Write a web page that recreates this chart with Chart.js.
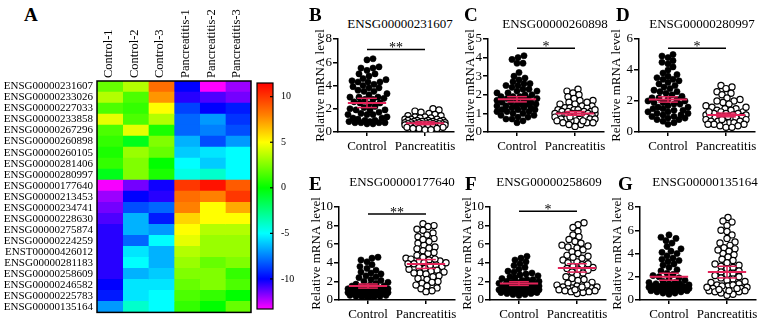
<!DOCTYPE html>
<html>
<head>
<meta charset="utf-8">
<script src="https://cdn.jsdelivr.net/npm/chart.js@4.4.1/dist/chart.umd.min.js"></script>
<style>
  body { margin: 0; background: #fff; width: 762px; height: 323px; overflow: hidden; position: relative; font-family: "Liberation Serif", serif; }
  canvas { position: absolute; }
  .letter { position: absolute; font-weight: bold; font-size: 19px; line-height: 1; }
  .gene { position: absolute; font-size: 13px; line-height: 1; white-space: nowrap; transform: translateX(-50%); }
</style>
</head>
<body>
<script>
// ---- heatmap data (panel A) ----
const genes = ['ENSG00000231607', 'ENSG00000233026', 'ENSG00000227033', 'ENSG00000233858',
  'ENSG00000267296', 'ENSG00000260898', 'ENSG00000260105', 'ENSG00000281406', 'ENSG00000280997',
  'ENSG00000177640', 'ENSG00000213453', 'ENSG00000234741', 'ENSG00000228630', 'ENSG00000275874',
  'ENSG00000224259', 'ENST00000426012', 'ENSG00000281183', 'ENSG00000258609', 'ENSG00000246582',
  'ENSG00000225783', 'ENSG00000135164'];
const samples = ['Control-1', 'Control-2', 'Control-3', 'Pancreatitis-1', 'Pancreatitis-2', 'Pancreatitis-3'];
const heat = [
  [2, 3.5, 8.5, -10, -13.3, -12],
  [3.5, 1.5, 7.5, -10.5, -11, -11.5],
  [1.5, 1, 5, -8.7, -10, -9.5],
  [4.5, 1.5, 3.5, -8, -7, -9],
  [1.5, 4.5, 0.5, -8, -7.5, -8.5],
  [1, -0.5, 2.5, -6.5, -8.5, -7],
  [0.5, 3, 2, -6, -5.5, -5],
  [1, 2.5, 0, -5, -6, -5],
  [-0.5, 2.5, 0.5, -4.5, -4, -5],
  [-13.2, -11.5, -10.2, 10, 11, 9],
  [-12, -10, -10.5, 8.5, 8, 10],
  [-11.5, -8.5, -8, 8, 5, 7],
  [-11, -6.5, -9.5, 6, 5, 5],
  [-10.5, -6.5, -7, 5, 3.5, 3.5],
  [-10.5, -8, -5, 4.5, 3, 3],
  [-10.5, -5.5, -6.5, 3.5, 3, 3],
  [-10.5, -5, -6.5, 3, 2, 2.5],
  [-10.5, -6.5, -6, 2.5, 2.5, 1],
  [-10, -5.5, -5.5, 2, 2.5, 1.5],
  [-9.5, -5.5, -5, 1.5, 1, 0],
  [-7, -4, -5, 1, 0, 2]
];
const cbRange = [-13.3, 11.5];

// ---- dot plot data (panels B-G) ----
const groups = ['Control', 'Pancreatitis'];
const bControl = [6.3, 6.2, 5.6, 5.5, 5.5, 5.3, 5.0, 5.0, 4.8, 4.6, 4.5, 4.4, 4.3, 4.3, 4.3, 4.1, 4.0, 3.9, 3.8, 3.8,
  3.6, 3.5, 3.5, 3.3, 3.2, 3.0, 3.0, 3.0, 2.9, 2.8, 2.8, 2.6, 2.5, 2.5, 2.4, 2.2, 2.1, 2.0, 1.9, 1.9,
  1.9, 1.7, 1.6, 1.5, 1.5, 1.5, 1.3, 1.2, 1.2, 1.1, 1.0, 1.0, 0.9, 0.9, 0.8, 0.8, 0.8, 0.8, 0.7, 0.7];
const bPanc = [2.0, 1.9, 1.8, 1.7, 1.6, 1.5, 1.4, 1.4, 1.3, 1.3, 1.2, 1.2, 1.1, 1.1, 1.1, 1.0, 1.0, 1.0, 1.0,
  0.9, 0.9, 0.9, 0.9, 0.9, 0.8, 0.8, 0.8, 0.8, 0.8, 0.8, 0.7, 0.7, 0.7, 0.7, 0.7, 0.7, 0.7,
  0.6, 0.6, 0.6, 0.6, 0.6, 0.6, 0.5, 0.5, 0.5, 0.5, 0.5, 0.4, 0.4, 0.4, 0.4, 0.3, 0.3, 0.3, 0.2, 0.2];
const cControl = [4.1, 4.0, 3.9, 3.7, 3.7, 3.2, 3.0, 2.9, 2.8, 2.7, 2.6, 2.6, 2.5, 2.5, 2.4, 2.3, 2.2, 2.2, 2.1, 2.1,
  2.0, 2.0, 1.9, 1.9, 1.8, 1.8, 1.8, 1.7, 1.7, 1.7, 1.6, 1.6, 1.6, 1.5, 1.5, 1.5, 1.4, 1.4, 1.4, 1.3,
  1.3, 1.3, 1.2, 1.2, 1.1, 1.1, 1.1, 1.0, 1.0, 0.9, 0.9, 0.8, 0.8, 0.7, 0.7, 0.6, 0.5, 2.3, 1.9, 1.2];
const cPanc = [2.3, 2.2, 2.1, 2.0, 1.9, 1.8, 1.7, 1.7, 1.6, 1.5, 1.5, 1.4, 1.4, 1.3, 1.3, 1.3, 1.2, 1.2, 1.2, 1.1,
  1.1, 1.1, 1.1, 1.0, 1.0, 1.0, 1.0, 1.0, 0.9, 0.9, 0.9, 0.9, 0.9, 0.8, 0.8, 0.8, 0.8, 0.7, 0.7, 0.7,
  0.7, 0.6, 0.6, 0.6, 0.5, 0.5, 0.5, 0.4, 0.4, 0.3, 1.2, 0.8, 1.6, 1.0, 0.6];
const dControl = [5.0, 4.9, 4.8, 4.6, 4.5, 4.4, 4.2, 4.0, 3.8, 3.7, 3.6, 3.5, 3.4, 3.4, 3.2, 3.1, 3.0, 2.9, 2.8, 2.7,
  2.6, 2.5, 2.4, 2.3, 2.2, 2.2, 2.1, 2.0, 2.0, 1.9, 1.9, 1.8, 1.8, 1.7, 1.6, 1.5, 1.5, 1.4, 1.4, 1.3,
  1.3, 1.2, 1.1, 1.1, 1.0, 1.0, 0.9, 0.9, 0.8, 0.8, 0.7, 0.6, 0.5, 2.6, 3.3, 1.6, 2.1, 1.2];
const dPanc = [3.0, 2.9, 2.8, 2.6, 2.5, 2.4, 2.2, 2.1, 2.0, 1.9, 1.8, 1.7, 1.6, 1.5, 1.5, 1.4, 1.4, 1.3, 1.3, 1.2,
  1.2, 1.2, 1.1, 1.1, 1.1, 1.0, 1.0, 1.0, 1.0, 0.9, 0.9, 0.9, 0.8, 0.8, 0.8, 0.7, 0.7, 0.7, 0.6, 0.6,
  0.6, 0.5, 0.5, 0.5, 0.4, 0.4, 0.3, 0.3, 1.6, 1.0, 0.8, 2.0, 1.3];
const eControl = [4.6, 4.5, 4.3, 4.1, 3.8, 3.6, 3.4, 3.2, 3.0, 2.9, 2.8, 2.6, 2.5, 2.4, 2.2, 2.1, 2.0, 1.9, 1.8, 1.7,
  1.6, 1.5, 1.5, 1.4, 1.4, 1.3, 1.3, 1.2, 1.2, 1.1, 1.1, 1.1, 1.0, 1.0, 1.0, 0.9, 0.9, 0.9, 0.9, 0.8,
  0.8, 0.8, 0.8, 0.7, 0.7, 0.7, 0.7, 0.6, 0.6, 0.6, 0.5, 0.5, 0.5, 0.4, 0.4, 0.3, 0.3, 0.2, 1.0, 0.8];
const ePanc = [8.2, 8.0, 7.9, 7.5, 7.2, 7.0, 6.8, 6.6, 6.3, 6.1, 5.9, 5.7, 5.5, 5.3, 5.1, 5.0, 4.8, 4.6, 4.5, 4.4,
  4.3, 4.2, 4.1, 4.0, 3.9, 3.8, 3.7, 3.6, 3.5, 3.4, 3.3, 3.2, 3.1, 3.0, 2.9, 2.8, 2.6, 2.5, 2.3, 2.2,
  2.0, 1.9, 1.8, 1.6, 1.5, 1.3, 1.2, 1.0, 0.9, 4.4, 3.9, 2.9, 5.6, 6.5, 7.6, 4.0];
const fControl = [4.7, 4.5, 4.3, 4.1, 3.9, 3.7, 3.5, 3.3, 3.1, 3.0, 2.9, 2.7, 2.6, 2.5, 2.4, 2.3, 2.2, 2.1, 2.0, 2.0,
  1.9, 1.9, 1.8, 1.8, 1.7, 1.7, 1.6, 1.6, 1.5, 1.5, 1.4, 1.4, 1.3, 1.3, 1.2, 1.2, 1.2, 1.1, 1.1, 1.0,
  1.0, 1.0, 0.9, 0.9, 0.9, 0.8, 0.8, 0.8, 0.7, 0.7, 0.6, 0.6, 0.5, 1.5, 2.2, 1.0, 0.9, 1.3, 2.8, 1.1];
const fPanc = [8.3, 8.1, 7.8, 7.4, 7.0, 6.8, 6.5, 6.3, 6.1, 5.9, 5.7, 5.6, 5.4, 5.2, 5.0, 4.8, 4.7, 4.5, 4.3, 4.1,
  4.0, 3.8, 3.6, 3.5, 3.4, 3.2, 3.0, 2.9, 2.7, 2.5, 2.3, 2.1, 1.9, 1.8, 1.6, 1.5, 1.4, 1.4, 1.3, 1.3,
  1.2, 1.2, 1.1, 1.1, 1.0, 1.0, 0.9, 0.9, 0.8, 0.7, 5.8, 3.9, 2.2, 1.6, 1.1, 1.4, 3.3, 4.6];
const gControl = [5.6, 5.4, 5.3, 5.1, 4.9, 4.6, 4.4, 4.2, 4.0, 3.8, 3.6, 3.4, 3.3, 3.1, 3.0, 2.8, 2.6, 2.5, 2.3, 2.2,
  2.0, 1.9, 1.8, 1.7, 1.6, 1.5, 1.5, 1.4, 1.4, 1.3, 1.3, 1.2, 1.2, 1.2, 1.1, 1.1, 1.1, 1.0, 1.0, 1.0,
  1.0, 0.9, 0.9, 0.9, 0.8, 0.8, 0.8, 0.7, 0.7, 0.6, 0.6, 0.5, 1.1, 1.3, 0.9, 1.0, 2.1, 3.5, 4.1, 1.2];
const gPanc = [7.1, 6.8, 6.7, 6.4, 6.0, 5.9, 5.6, 5.3, 5.0, 4.9, 4.7, 4.5, 4.4, 4.2, 4.0, 3.9, 3.7, 3.5, 3.4, 3.2,
  3.0, 2.9, 2.8, 2.7, 2.5, 2.4, 2.3, 2.2, 2.0, 1.9, 1.8, 1.7, 1.6, 1.5, 1.4, 1.3, 1.2, 1.1, 1.0, 1.0,
  0.9, 0.9, 0.8, 0.8, 0.7, 0.7, 0.6, 0.5, 0.4, 1.3, 1.2, 0.9, 2.1, 3.1, 1.1, 4.3, 0.8, 1.0];

// mean and error half-width per group
const means = { B: [2.5, 0.75], C: [1.76, 1.0], D: [2.1, 1.1], E: [1.5, 3.87], F: [1.77, 3.45], G: [2.0, 2.4] };
const errs = { B: [0.4, 0.12], C: [0.14, 0.1], D: [0.17, 0.12], E: [0.22, 0.48], F: [0.2, 0.45], G: [0.3, 0.5] };
const stars = { B: '**', C: '*', D: '*', E: '**', F: '*', G: '' };

// ---- colour map ----
const hueStops = [[11.5, 0], [8, 30], [5, 60], [0, 120], [-5, 180], [-10, 240], [-13.3, 300]];
function heatColor(v) {
  v = Math.max(cbRange[0], Math.min(cbRange[1], v));
  for (let i = 0; i < hueStops.length - 1; i++) {
    const [v0, h0] = hueStops[i], [v1, h1] = hueStops[i + 1];
    if (v <= v0 && v >= v1) {
      const t = (v0 - v) / (v0 - v1);
      return `hsl(${h0 + t * (h1 - h0)},100%,50%)`;
    }
  }
  return '#000';
}

const serif = '"Liberation Serif", "Times New Roman", serif';
const red = '#e3245a';

function addCanvas(left, top, w, h) {
  const c = document.createElement('canvas');
  c.width = w; c.height = h;
  c.style.left = left + 'px'; c.style.top = top + 'px';
  c.style.width = w + 'px'; c.style.height = h + 'px';
  document.body.appendChild(c);
  return c;
}
function addText(cls, text, left, top) {
  const d = document.createElement('div');
  d.className = cls; d.textContent = text;
  d.style.left = left + 'px'; d.style.top = top + 'px';
  document.body.appendChild(d);
}

const baseOpts = {
  responsive: false, animation: false, devicePixelRatio: 1,
  plugins: { legend: { display: false }, tooltip: { enabled: false } }
};

// ---- A: heatmap ----
const frame = {
  id: 'frame',
  afterDatasetsDraw(chart, args, opts) {
    const { ctx, chartArea: a } = chart;
    ctx.save();
    ctx.strokeStyle = '#000';
    ctx.lineWidth = opts.width || 1.5;
    ctx.strokeRect(a.left, a.top, a.right - a.left, a.bottom - a.top);
    if (opts.ticks) {
      const y = chart.scales.y;
      ctx.lineWidth = 1.2;
      y.ticks.forEach(t => {
        const py = y.getPixelForValue(t.value);
        ctx.beginPath(); ctx.moveTo(a.right - 3, py); ctx.lineTo(a.right, py); ctx.stroke();
      });
    }
    ctx.restore();
  }
};

addText('letter', 'A', 24, 5);
new Chart(addCanvas(0, 0, 254, 323), {
  type: 'bar',
  data: {
    labels: genes,
    datasets: samples.map((s, j) => ({
      label: s,
      data: heat.map(() => 1),
      backgroundColor: heat.map(row => heatColor(row[j])),
      borderWidth: 0,
      barPercentage: 1,
      categoryPercentage: 1
    }))
  },
  options: {
    ...baseOpts,
    indexAxis: 'y',
    layout: { padding: { right: 3, bottom: 10 } },
    plugins: { ...baseOpts.plugins, frame: { width: 1.5 } },
    scales: {
      x: {
        type: 'linear', position: 'top', stacked: true, min: 0, max: samples.length,
        afterBuildTicks: s => { s.ticks = samples.map((n, i) => ({ value: i + 0.5 })); },
        afterFit: s => { s.height = 81; },
        grid: { display: false, drawTicks: false }, border: { display: false },
        ticks: { autoSkip: false, minRotation: 90, maxRotation: 90, padding: 3, labelOffset: 14, color: '#000',
          font: { family: serif, size: 12.5 }, callback: (v, i) => samples[i] }
      },
      y: {
        stacked: true,
        afterFit: s => { s.width = 97; },
        grid: { display: false, drawTicks: false }, border: { display: false },
        ticks: { autoSkip: false, padding: 4, color: '#000', font: { family: serif, size: 11 } }
      }
    }
  },
  plugins: [frame]
});

// colour bar
new Chart(addCanvas(240, 60, 62, 263), {
  type: 'bar',
  data: {
    labels: [''],
    datasets: [{
      data: [cbRange],
      borderWidth: 0, barPercentage: 1, categoryPercentage: 1,
      backgroundColor: c => {
        const ch = c.chart;
        if (!ch.chartArea) return '#0f0';
        const y = ch.scales.y;
        const g = ch.ctx.createLinearGradient(0, y.getPixelForValue(cbRange[1]), 0, y.getPixelForValue(cbRange[0]));
        hueStops.forEach(([v, h]) => g.addColorStop((cbRange[1] - v) / (cbRange[1] - cbRange[0]), `hsl(${h},100%,50%)`));
        return g;
      }
    }]
  },
  options: {
    ...baseOpts,
    layout: { padding: { left: 17, top: 23, bottom: 10, right: 0 } },
    plugins: { ...baseOpts.plugins, frame: { width: 1.2, ticks: true } },
    scales: {
      x: { display: false },
      y: {
        position: 'right', min: cbRange[0], max: cbRange[1],
        afterFit: s => { s.width = 29; },
        grid: { display: false, drawTicks: false }, border: { display: false },
        ticks: { stepSize: 5, includeBounds: false, padding: 8, color: '#000', font: { family: serif, size: 10 } }
      }
    }
  },
  plugins: [frame]
});

// ---- B-G: dot plots ----
const panels = [
  { id: 'B', gene: 'ENSG00000231607', ctrl: bControl, panc: bPanc, yMax: 8, step: 2, sigY: 7.1, axisX: 338, top: 39, bottom: 132, titleOff: 17.5, lx: 309, tx: 400 },
  { id: 'C', gene: 'ENSG00000260898', ctrl: cControl, panc: cPanc, yMax: 5, step: 1, sigY: 4.5, axisX: 488, top: 39, bottom: 132, titleOff: 17.7, lx: 464, tx: 555 },
  { id: 'D', gene: 'ENSG00000280997', ctrl: dControl, panc: dPanc, yMax: 6, step: 2, sigY: 5.4, axisX: 639, top: 39, bottom: 132, titleOff: 22, lx: 616, tx: 702 },
  { id: 'E', gene: 'ENSG00000177640', ctrl: eControl, panc: ePanc, yMax: 10, step: 2, sigY: 9.25, axisX: 339, top: 207, bottom: 300, titleOff: 22.6, lx: 309, tx: 402 },
  { id: 'F', gene: 'ENSG00000258609', ctrl: fControl, panc: fPanc, yMax: 10, step: 2, sigY: 9.55, axisX: 490, top: 207, bottom: 300, titleOff: 22, lx: 465, tx: 549 },
  { id: 'G', gene: 'ENSG00000135164', ctrl: gControl, panc: gPanc, yMax: 8, step: 2, sigY: 0, axisX: 640, top: 207, bottom: 300, titleOff: 22, lx: 618, tx: 705 }
];

// spread points sideways so they do not pile up (offsets in px)
function swarm(vals, pxPerY) {
  const d = 5.6, maxOff = 20;
  const placed = [];
  const offs = vals.map(() => 0);
  const order = vals.map((v, i) => i).sort((a, b) => vals[a] - vals[b]);
  order.forEach(i => {
    const y = vals[i] * pxPerY;
    let best = 0, bestGap = -1;
    for (let k = 0; k <= 2 * maxOff; k++) {
      const cand = (k % 2 ? 1 : -1) * Math.ceil(k / 2);
      let gap = Infinity;
      placed.forEach(p => { gap = Math.min(gap, Math.hypot(p.x - cand, p.y - y)); });
      if (gap >= d) { best = cand; bestGap = gap; break; }
      if (gap > bestGap) { bestGap = gap; best = cand; }
    }
    placed.push({ x: best, y });
    offs[i] = best;
  });
  return offs;
}

const stats = {
  id: 'stats',
  afterDatasetsDraw(chart, args, o) {
    const { ctx, scales: { x, y } } = chart;
    const line = (x0, y0, x1, y1) => { ctx.beginPath(); ctx.moveTo(x0, y0); ctx.lineTo(x1, y1); ctx.stroke(); };
    ctx.save();
    ctx.strokeStyle = red;
    ctx.lineWidth = 2;
    o.means.forEach((m, g) => {
      const xc = x.getPixelForValue(g);
      const hw = x.getPixelForValue(g + 0.33) - xc, ew = x.getPixelForValue(g + 0.17) - xc;
      const ym = y.getPixelForValue(m), yt = y.getPixelForValue(m + o.errs[g]), yb = y.getPixelForValue(m - o.errs[g]);
      line(xc - hw, ym, xc + hw, ym);
      ctx.lineWidth = 1.5;
      line(xc, yt, xc, yb);
      line(xc - ew, yt, xc + ew, yt);
      line(xc - ew, yb, xc + ew, yb);
      ctx.lineWidth = 2;
    });
    if (o.stars) {
      const ys = y.getPixelForValue(o.sigY);
      const x0 = x.getPixelForValue(0), x1 = x.getPixelForValue(1);
      ctx.strokeStyle = '#000';
      ctx.lineWidth = 1.5;
      line(x0, ys, x1, ys);
      ctx.fillStyle = '#000';
      ctx.font = `14px ${serif}`;
      ctx.textAlign = 'center';
      ctx.textBaseline = 'alphabetic';
      ctx.fillText(o.stars, (x0 + x1) / 2, ys + 3);
    }
    ctx.restore();
  }
};

panels.forEach(p => {
  const cTop = p.top > 100 ? 160 : 0;
  const yw = 40, plotW = 116, cw = 172;
  const pxPerY = (p.bottom - p.top) / p.yMax, pxPerX = plotW / 2;
  const offC = swarm(p.ctrl, pxPerY), offP = swarm(p.panc, pxPerY);
  const tickFont = { family: serif, size: 13 };

  addText('letter', p.id, p.lx, p.top > 100 ? 173.5 : 5);
  addText('gene', p.gene, p.tx, p.top > 100 ? 174.5 : 16.5);

  new Chart(addCanvas(p.axisX - yw, cTop, cw, p.bottom - cTop + 25), {
    type: 'scatter',
    data: {
      datasets: [
        { data: p.ctrl.map((v, i) => ({ x: offC[i] / pxPerX, y: v })), pointRadius: 3.1,
          backgroundColor: '#000', borderColor: '#000', borderWidth: 0.6 },
        { data: p.panc.map((v, i) => ({ x: 1 + offP[i] / pxPerX, y: v })), pointRadius: 3.1,
          backgroundColor: '#fff', borderColor: '#000', borderWidth: 1.2 }
      ]
    },
    options: {
      ...baseOpts,
      layout: { padding: { top: p.top - cTop, left: 0, right: cw - yw - plotW, bottom: 0 } },
      plugins: { ...baseOpts.plugins, stats: { means: means[p.id], errs: errs[p.id], stars: stars[p.id], sigY: p.sigY } },
      scales: {
        x: {
          type: 'linear', min: -0.5, max: 1.5,
          afterBuildTicks: s => { s.ticks = groups.map((g, i) => ({ value: i })); },
          afterFit: s => { s.height = 25; },
          grid: { drawOnChartArea: false, color: '#000', lineWidth: 1.5, tickLength: 4 },
          border: { color: '#000', width: 1.5 },
          ticks: { autoSkip: false, maxRotation: 0, padding: 3, color: '#000', font: tickFont, callback: (v, i) => groups[i] }
        },
        y: {
          min: 0, max: p.yMax,
          afterFit: s => { s.width = yw; },
          grid: { drawOnChartArea: false, color: '#000', lineWidth: 1.5, tickLength: 5 },
          border: { color: '#000', width: 1.5 },
          ticks: { stepSize: p.step, padding: 1, color: '#000', font: tickFont },
          title: { display: true, text: 'Relative mRNA level', color: '#000', font: tickFont,
            padding: { top: yw - p.titleOff - 7.8, bottom: 0 } }
        }
      }
    },
    plugins: [stats]
  });
});
</script>
</body>
</html>
